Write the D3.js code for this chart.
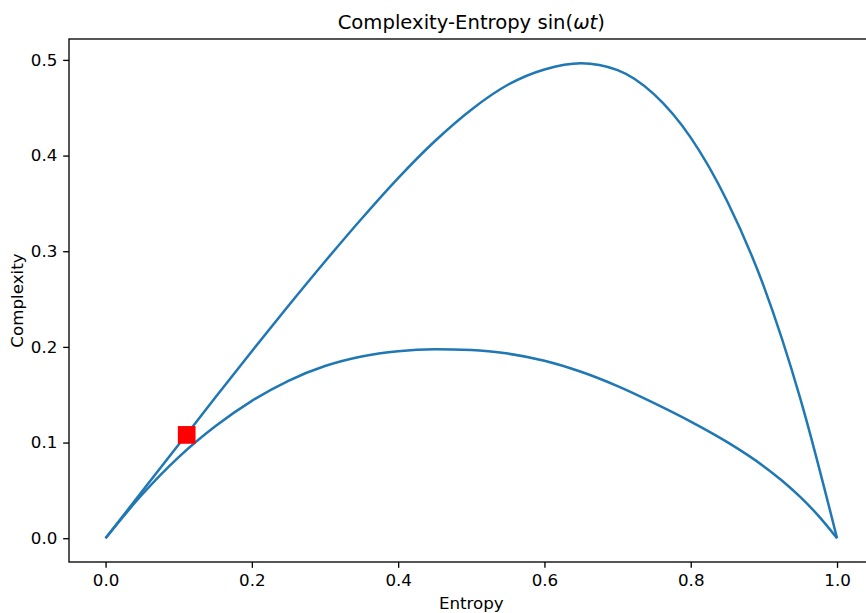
<!DOCTYPE html>
<html>
<head>
<meta charset="utf-8">
<script src="https://cdn.jsdelivr.net/npm/d3@7"></script>
<style>
  body { margin: 0; background: #fff; }
  svg { display: block; font-family: "DejaVu Sans", sans-serif; }
</style>
</head>
<body>
<svg id="chart" width="866" height="613"></svg>
<script>
// Upper (maximum complexity) curve
const upperEntropy = [0, 0.05, 0.10, 0.15, 0.20, 0.25, 0.30, 0.35, 0.40, 0.45, 0.50, 0.55, 0.60, 0.65, 0.70, 0.75, 0.80, 0.85, 0.90, 0.95, 1.0];
const upperComplexity = [0, 0.049, 0.098, 0.147, 0.1955, 0.2430, 0.2893, 0.3340, 0.3765, 0.4150, 0.4480, 0.4740, 0.4900, 0.4965, 0.4893, 0.4640, 0.4188, 0.3520, 0.2630, 0.1455, 0.0];
// Lower (minimum complexity) curve
const lowerEntropy = [0, 0.05, 0.10, 0.15, 0.20, 0.25, 0.30, 0.35, 0.40, 0.45, 0.50, 0.55, 0.60, 0.65, 0.70, 0.75, 0.80, 0.85, 0.90, 0.925, 0.95, 0.975, 1.0];
const lowerComplexity = [0, 0.0457, 0.0848, 0.1170, 0.1436, 0.1646, 0.1800, 0.1900, 0.1955, 0.1975, 0.1968, 0.1930, 0.1855, 0.1740, 0.1590, 0.1412, 0.1219, 0.1004, 0.0751, 0.0601, 0.0429, 0.0231, 0.0];
// Marker point
const markerEntropy = [0.1109];
const markerComplexity = [0.108];
// Ticks
const xTicks = [0.0, 0.2, 0.4, 0.6, 0.8, 1.0];
const yTicks = [0.0, 0.1, 0.2, 0.3, 0.4, 0.5];

const svg = d3.select("#chart");
const mLeft = 69, mRight = 873.6, mTop = 39, mBottom = 562;

const x = d3.scaleLinear().domain([-0.05, 1.05]).range([mLeft, mRight]);
const y = d3.scaleLinear().domain([-0.02485, 0.52185]).range([mBottom, mTop]);

const upper = upperEntropy.map((e, i) => [e, upperComplexity[i]]);
const lower = lowerEntropy.map((e, i) => [e, lowerComplexity[i]]);

const line = d3.line().x(d => x(d[0])).y(d => y(d[1])).curve(d3.curveMonotoneX);

const plot = svg.append("g");
[upper, lower].forEach(data => {
  plot.append("path")
    .datum(data)
    .attr("d", line)
    .attr("fill", "none")
    .attr("stroke", "#1f77b4")
    .attr("stroke-width", 2.5)
    .attr("stroke-linejoin", "round")
    .attr("stroke-linecap", "butt");
});

const ms = 17.7;
plot.selectAll("rect.marker")
  .data(markerEntropy.map((e, i) => [e, markerComplexity[i]]))
  .enter().append("rect")
  .attr("class", "marker")
  .attr("x", d => x(d[0]) - ms / 2)
  .attr("y", d => y(d[1]) - ms / 2)
  .attr("width", ms).attr("height", ms)
  .attr("fill", "#ff0000");

// Axes
const tk = 5.83;
const xAxis = d3.axisBottom(x).tickValues(xTicks).tickFormat(d3.format(".1f")).tickSizeOuter(0).tickSize(tk).tickPadding(tk);
const yAxis = d3.axisLeft(y).tickValues(yTicks).tickFormat(d3.format(".1f")).tickSizeOuter(0).tickSize(tk).tickPadding(tk);

const gx = svg.append("g").attr("transform", `translate(0,${mBottom})`).call(xAxis);
const gy = svg.append("g").attr("transform", `translate(${mLeft},0)`).call(yAxis);
[gx, gy].forEach(g => {
  g.select(".domain").remove();
  g.selectAll(".tick line").attr("stroke", "#000").attr("stroke-width", 1.33);
  g.selectAll(".tick text").attr("fill", "#000").style("font-size", "16.7px").style("font-family", "DejaVu Sans");
});

// Frame
svg.append("rect")
  .attr("x", mLeft).attr("y", mTop)
  .attr("width", mRight - mLeft).attr("height", mBottom - mTop)
  .attr("fill", "none").attr("stroke", "#000").attr("stroke-width", 1.33);

// Title
const title = svg.append("text")
  .attr("x", (mLeft + mRight) / 2).attr("y", 29)
  .attr("text-anchor", "middle")
  .style("font-size", "19.6px");
title.append("tspan").text("Complexity-Entropy sin(");
title.append("tspan").style("font-style", "italic").text("ωt");
title.append("tspan").text(")");

// Axis labels
svg.append("text")
  .attr("x", (mLeft + mRight) / 2).attr("y", 609)
  .attr("text-anchor", "middle")
  .style("font-size", "16.7px")
  .text("Entropy");

svg.append("text")
  .attr("transform", `translate(23,${(mTop + mBottom) / 2}) rotate(-90)`)
  .attr("text-anchor", "middle")
  .style("font-size", "16.7px")
  .text("Complexity");
</script>
</body>
</html>
